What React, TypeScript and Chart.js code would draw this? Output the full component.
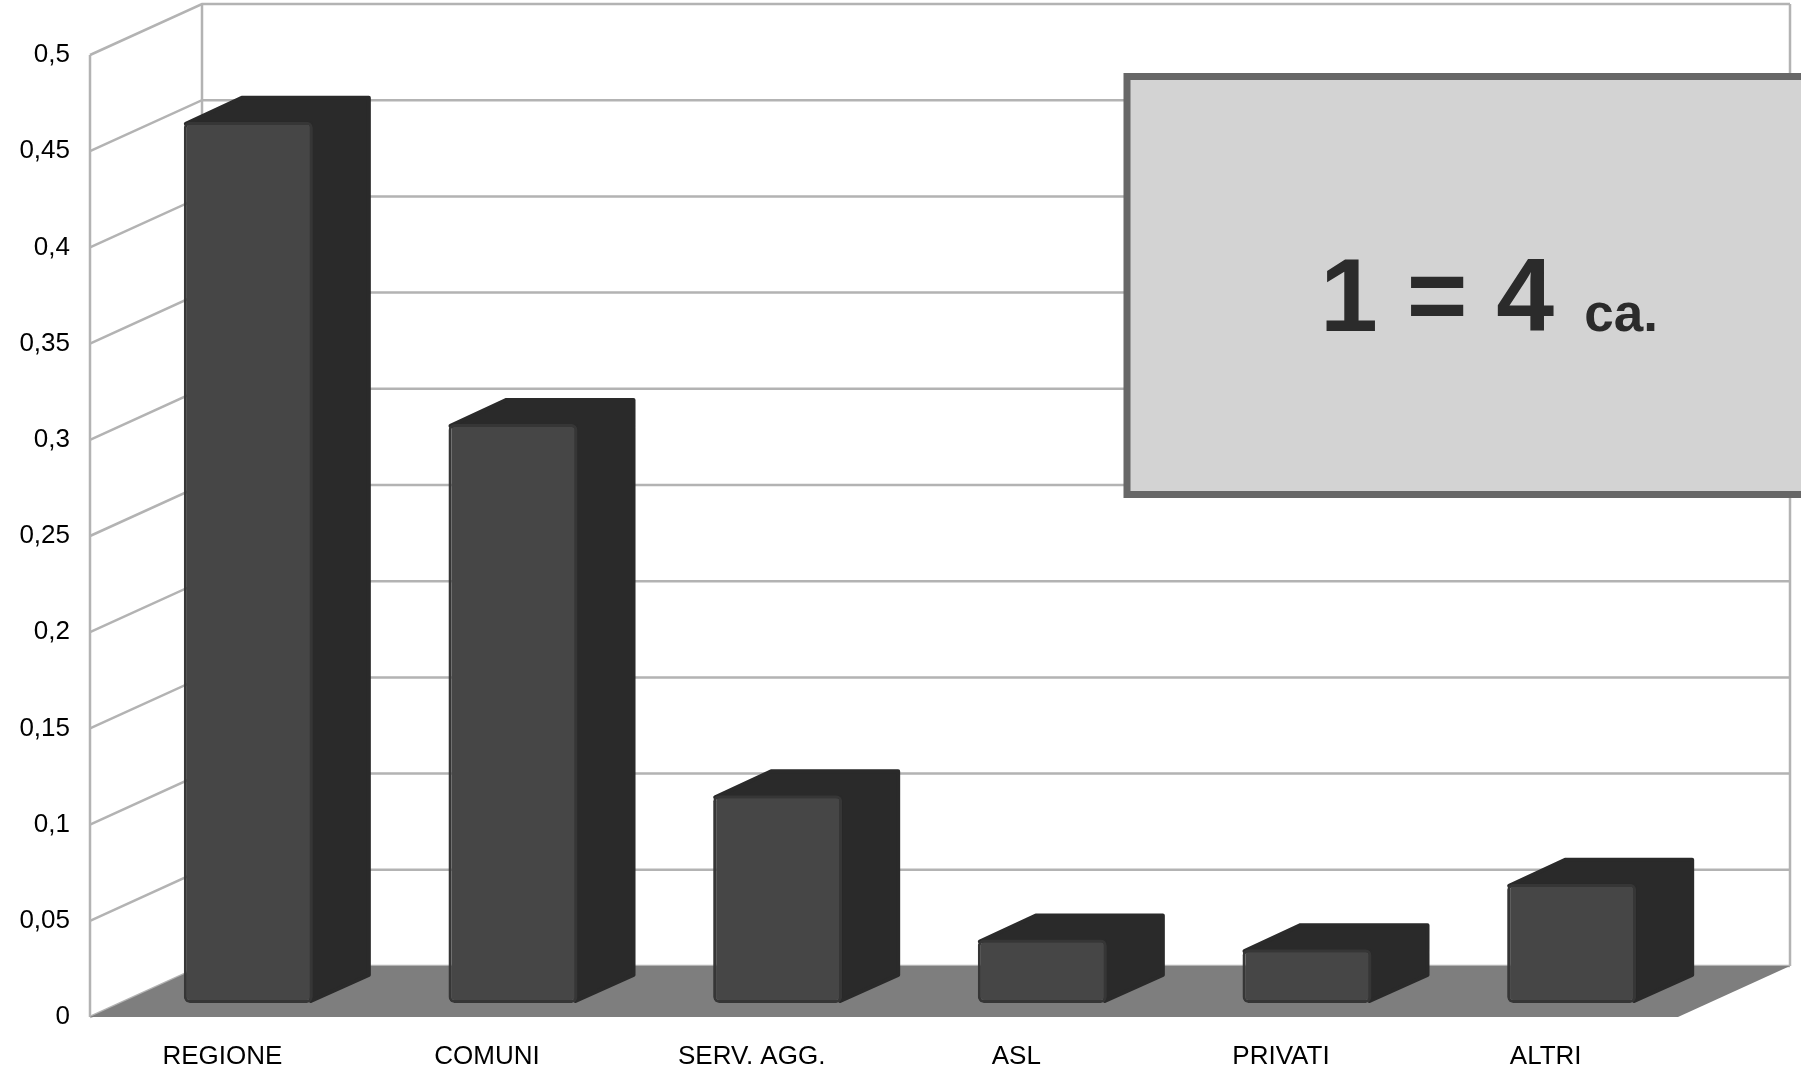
import { useEffect, useRef } from 'react';
import { Chart, registerables } from 'chart.js';

Chart.register(...registerables);

const categories = ['REGIONE', 'COMUNI', 'SERV. AGG.', 'ASL', 'PRIVATI', 'ALTRI'];
const values = [0.458, 0.301, 0.108, 0.033, 0.028, 0.062];
const yMin = 0;
const yMax = 0.5;
const yStep = 0.05;
const boxMain = '1 = 4';
const boxSuffix = 'ca.';

const FONT = '"Liberation Sans", Arial, sans-serif';
const WALL = { dx: 112, dy: -51 };
const BAR_SHIFT = { dx: 26, dy: -14 };
const BAR_DEPTH = { dx: 58, dy: -26 };

const threeD = {
  id: 'threeD',
  beforeDatasetsDraw(chart: any) {
    const { ctx, chartArea, scales } = chart;
    const ys = scales.y;
    const L = chartArea.left;
    const R = chartArea.right;
    ctx.save();
    ctx.strokeStyle = '#b3b3b3';
    ctx.lineWidth = 2.5;
    const yTop = ys.getPixelForValue(yMax);
    const yBot = ys.getPixelForValue(yMin);
    ys.ticks.forEach((t: any) => {
      const y = ys.getPixelForValue(t.value);
      ctx.beginPath();
      ctx.moveTo(L, y);
      ctx.lineTo(L + WALL.dx, y + WALL.dy);
      ctx.lineTo(R + WALL.dx, y + WALL.dy);
      ctx.stroke();
    });
    ctx.beginPath();
    ctx.moveTo(L, yTop);
    ctx.lineTo(L, yBot);
    ctx.moveTo(L + WALL.dx, yTop + WALL.dy);
    ctx.lineTo(L + WALL.dx, yBot + WALL.dy);
    ctx.moveTo(R + WALL.dx, yTop + WALL.dy);
    ctx.lineTo(R + WALL.dx, yBot + WALL.dy);
    ctx.stroke();
    // floor
    ctx.fillStyle = '#7e7e7e';
    ctx.beginPath();
    ctx.moveTo(L, yBot);
    ctx.lineTo(R, yBot);
    ctx.lineTo(R + WALL.dx, yBot + WALL.dy);
    ctx.lineTo(L + WALL.dx, yBot + WALL.dy);
    ctx.closePath();
    ctx.fill();
    // bar side + top faces
    const meta = chart.getDatasetMeta(0);
    ctx.fillStyle = '#2a2a2a';
    ctx.strokeStyle = '#2a2a2a';
    ctx.lineJoin = 'round';
    ctx.lineWidth = 4;
    meta.data.forEach((bar: any) => {
      const p = bar.getProps(['x', 'y', 'base', 'width'], true);
      const x1 = p.x - p.width / 2 + BAR_SHIFT.dx;
      const x2 = p.x + p.width / 2 + BAR_SHIFT.dx;
      const t = p.y + BAR_SHIFT.dy;
      const b = p.base + BAR_SHIFT.dy;
      ctx.beginPath();
      ctx.moveTo(x1 + 2, t + 2);
      ctx.lineTo(x1 + BAR_DEPTH.dx, t + BAR_DEPTH.dy + 2);
      ctx.lineTo(x2 + BAR_DEPTH.dx - 2, t + BAR_DEPTH.dy + 2);
      ctx.lineTo(x2 + BAR_DEPTH.dx - 2, b + BAR_DEPTH.dy - 2);
      ctx.lineTo(x2 - 2, b - 2);
      ctx.lineTo(x2 - 2, t + 2);
      ctx.closePath();
      ctx.fill();
      ctx.stroke();
    });
    ctx.restore();
    ctx.save();
    ctx.translate(BAR_SHIFT.dx, BAR_SHIFT.dy);
  },
  afterDatasetsDraw(chart: any) {
    const { ctx } = chart;
    ctx.restore();
    ctx.save();
    // annotation box
    ctx.fillStyle = '#d3d3d3';
    ctx.strokeStyle = '#676767';
    ctx.lineWidth = 7;
    ctx.beginPath();
    ctx.rect(1127, 76.5, 720, 418);
    ctx.fill();
    ctx.stroke();
    ctx.fillStyle = '#2b2b2b';
    ctx.textBaseline = 'alphabetic';
    ctx.textAlign = 'left';
    ctx.font = `bold 104px ${FONT}`;
    ctx.fillText(boxMain, 1320, 331);
    const w = ctx.measureText(boxMain).width;
    ctx.font = `bold 53px ${FONT}`;
    ctx.fillText(boxSuffix, 1320 + w + 30, 331);
    ctx.restore();
  },
};

export default function App() {
  const ref = useRef<HTMLCanvasElement>(null);
  useEffect(() => {
    const chart = new Chart(ref.current as HTMLCanvasElement, {
      type: 'bar',
      data: {
        labels: categories,
        datasets: [
          {
            data: values,
            backgroundColor: '#464646',
            borderColor: '#363636',
            borderWidth: 3,
            borderRadius: 6,
            borderSkipped: false,
            barPercentage: 0.4875,
            categoryPercentage: 1,
          },
        ],
      },
      options: {
        animation: false,
        responsive: false,
        devicePixelRatio: 1,
        layout: { padding: { top: 55, right: 123, left: 0, bottom: 0 } },
        plugins: { legend: { display: false }, tooltip: { enabled: false } },
        scales: {
          x: {
            grid: { display: false, drawTicks: false },
            border: { display: false },
            ticks: { color: '#000', font: { family: FONT, size: 26 }, padding: 24, maxRotation: 0, autoSkip: false },
            afterFit: (s: any) => {
              s.height = 63;
            },
          },
          y: {
            min: yMin,
            max: yMax,
            grid: { display: false, drawTicks: false },
            border: { display: false },
            ticks: {
              stepSize: yStep,
              color: '#000',
              font: { family: FONT, size: 26 },
              padding: 20,
              callback: (v: any) => String(Number(Number(v).toFixed(2))).replace('.', ','),
            },
            afterFit: (s: any) => {
              s.width = 90;
            },
          },
        },
      },
      plugins: [threeD],
    });
    return () => chart.destroy();
  }, []);
  return (
    <div style={{ position: 'fixed', left: 0, top: 0, width: 1801, height: 1080, background: '#fff' }}>
      <canvas ref={ref} width={1801} height={1080} style={{ display: 'block' }} />
    </div>
  );
}
